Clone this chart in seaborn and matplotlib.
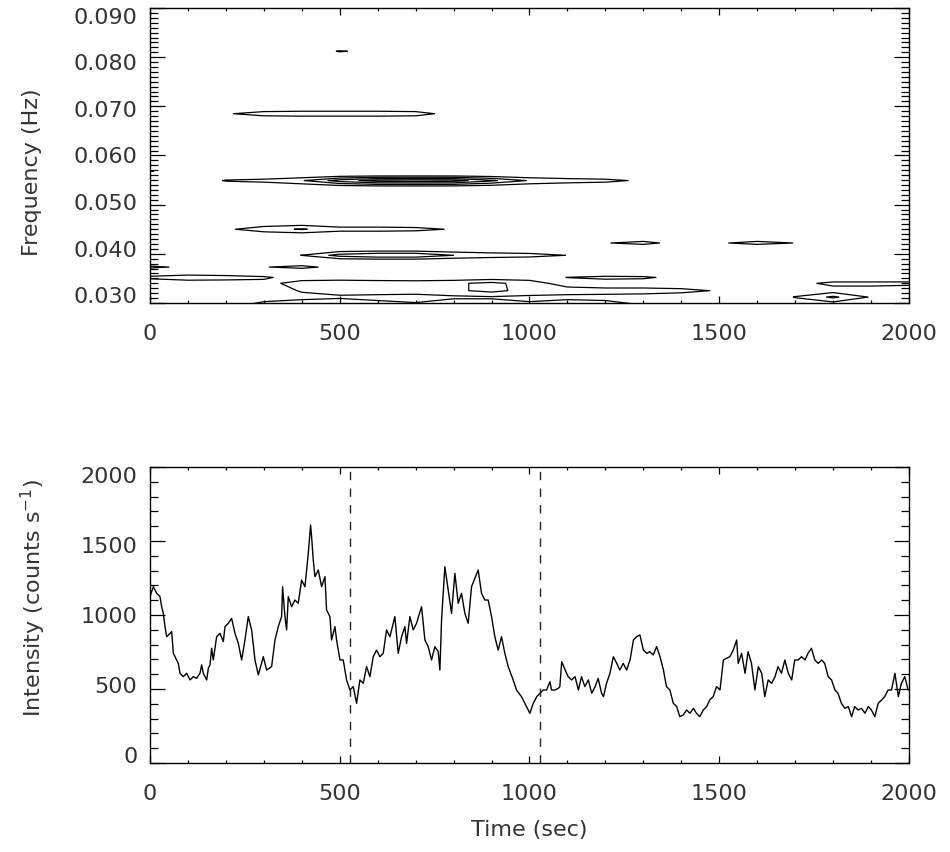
import numpy as np
import pandas as pd
import matplotlib
matplotlib.use("Agg")
import matplotlib.pyplot as plt
from matplotlib.ticker import MultipleLocator, FormatStrFormatter
from matplotlib.transforms import ScaledTranslation
import seaborn as sns

# ---------------- data: wavelet-like power grid (top panel) ----------------
t_grid = [0, 100, 200, 300, 400, 500, 600, 700, 800, 900, 1000,
          1100, 1200, 1300, 1400, 1500, 1600, 1700, 1800, 1900, 2000]

p_0812 = [0, 0, 0, 0, 0, 1.1, 0.6, 0, 0, 0, 0, 0, 0, 0, 0, 0, 0, 0, 0, 0, 0]
p_0685 = [0, 0, 0.9, 1.4, 1.5, 1.5, 1.5, 1.4, 0.6, 0, 0, 0, 0, 0, 0, 0, 0, 0, 0, 0, 0]
p_0568 = [1.1, 0, 0, 0, 0, 0, 0, 0, 0, 0, 0, 0, 0, 0, 0, 0, 0, 0, 0, 0, 0]
p_0549 = [0, 0, 1.1, 1.3, 1.9, 3.5, 4.5, 4.6, 4.5, 3.2, 1.9, 1.5, 1.3, 0.8, 0.3, 0, 0, 0, 0, 0, 0]
p_0450 = [0, 0, 0.8, 1.6, 2.1, 1.4, 1.4, 1.3, 0.9, 0.3, 0, 0, 0, 0, 0, 0, 0, 0, 0, 0, 0]
p_0422 = [0, 0, 0, 0, 0, 0, 0, 0, 0, 0, 0, 0.4, 0.95, 1.3, 0.6, 0.9, 1.3, 0.98, 0.3, 0, 0]
p_0397 = [0, 0, 0, 0.3, 1.02, 2.4, 2.9, 2.9, 2.0, 1.6, 1.4, 0.98, 0.5, 0.2, 0, 0, 0, 0, 0, 0, 0]
p_0373 = [1.2, 0.8, 0.4, 0.95, 1.3, 0.6, 0.2, 0, 0, 0, 0, 0, 0, 0, 0, 0, 0, 0, 0, 0, 0]
p_0352 = [1.3, 1.9, 1.6, 1.2, 0.4, 0.2, 0.2, 0.2, 0.2, 0.3, 0.5, 1.02, 1.3, 1.2, 0.6, 0.2, 0, 0, 0, 0, 0]
p_0340 = [0, 0, 0.2, 0.6, 1.5, 1.9, 1.7, 1.6, 1.8, 2.3, 1.5, 0.5, 0.3, 0.3, 0.2, 0.2, 0.3, 0.6, 1.3, 1.3, 1.3]
p_0325 = [0, 0, 0, 0.3, 1.1, 1.5, 1.5, 1.5, 1.8, 2.3, 1.6, 1.5, 1.4, 1.4, 1.3, 0.9, 0.3, 0.4, 0.5, 0.5, 0.2]
p_0312 = [0, 0, 0.3, 0.6, 0.7, 0.8, 0.7, 0.6, 0.8, 0.9, 0.8, 0.7, 0.7, 0.6, 0.4, 0.2, 0, 1.05, 2.2, 0.9, 0.2]
p_0298 = [0, 0, 0.6, 1.2, 1.5, 1.8, 1.3, 1.1, 1.6, 1.3, 1.1, 1.5, 1.3, 0.9, 0.6, 0.4, 0.3, 0.5, 0.5, 0.4, 0.3]

ridge_freqs = [0.0812, 0.0685, 0.0568, 0.0549, 0.0450, 0.0422, 0.0397,
               0.0373, 0.0352, 0.0340, 0.0325, 0.0312, 0.0298]
ridge_power = [p_0812, p_0685, p_0568, p_0549, p_0450, p_0422, p_0397,
               p_0373, p_0352, p_0340, p_0325, p_0312, p_0298]
gap_freqs = [0.0280, 0.0362, 0.0385, 0.0410, 0.0436, 0.0465, 0.0535,
             0.0561, 0.0577, 0.0670, 0.0700, 0.0800, 0.0824, 0.0920]
contour_levels = [1, 2, 3, 4]

# ---------------- data: light curve (bottom panel) ----------------
lc_time = [0, 8.8, 17.6, 26.3, 30.7, 35.1, 39.5, 43.9, 52.7, 57.1, 61.5, 70.2, 74.6, 79.0,
           87.8, 96.6, 105.4, 114.1, 122.9, 131.7, 136.1, 140.5, 149.3, 153.7, 158.0,
           162.4, 166.8, 175.6, 184.4, 193.2, 197.6, 206.3, 215.1, 223.9, 232.7, 241.5,
           250.2, 259.0, 267.8, 276.6, 285.4, 298.5, 307.3, 320.5, 329.3, 338.0, 346.8,
           349.4, 355.6, 360.0, 364.4, 373.2, 381.9, 390.7, 399.5, 408.3, 417.1, 423.2,
           425.8, 430.2, 434.6, 443.4, 452.2, 461.0, 465.3, 474.1, 478.5, 487.3, 491.7,
           500.5, 509.2, 518.0, 526.8, 535.6, 544.4, 553.1, 561.9, 570.7, 579.5, 588.3,
           597.0, 605.8, 614.6, 623.4, 632.2, 645.3, 654.1, 662.9, 671.7, 676.1, 684.8,
           693.6, 702.4, 715.6, 724.4, 733.1, 741.9, 750.7, 759.5, 763.9, 768.3, 777.0,
           785.8, 794.6, 803.4, 812.2, 820.9, 829.7, 838.5, 847.3, 856.1, 864.8, 873.6,
           882.4, 891.2, 900.0, 908.7, 917.5, 926.3, 935.1, 943.9, 957.0, 965.8, 979.0,
           992.1, 1001, 1010, 1019, 1028, 1036, 1045, 1054, 1058, 1067, 1076, 1080, 1085,
           1094, 1102, 1111, 1120, 1129, 1137, 1146, 1155, 1164, 1173, 1181, 1190, 1195,
           1203, 1212, 1221, 1230, 1238, 1247, 1256, 1265, 1274, 1282, 1291, 1300, 1309,
           1317, 1326, 1335, 1344, 1353, 1361, 1370, 1379, 1388, 1396, 1405, 1414, 1423,
           1432, 1440, 1449, 1458, 1467, 1475, 1484, 1493, 1502, 1511, 1519, 1528, 1537,
           1546, 1550, 1559, 1568, 1576, 1585, 1594, 1603, 1612, 1620, 1629, 1638, 1647,
           1655, 1664, 1673, 1682, 1691, 1699, 1708, 1717, 1726, 1734, 1743, 1752, 1761,
           1770, 1778, 1787, 1796, 1805, 1813, 1822, 1831, 1840, 1849, 1857, 1866, 1875,
           1884, 1893, 1901, 1910, 1919, 1928, 1936, 1945, 1954, 1963, 1972, 1980, 1989,
           1998]
lc_counts = [1124, 1191, 1146, 1124, 1056, 1011, 921, 853, 876, 887, 741, 696, 673, 606,
             583, 606, 561, 583, 572, 606, 662, 606, 561, 640, 662,
             775, 696, 853, 876, 820, 921, 944, 977, 876, 808, 696,
             831, 989, 899, 696, 595, 718, 628, 651, 831, 921, 989,
             1191, 989, 899, 1124, 1056, 1101, 1079, 1236, 1191, 1416, 1608,
             1529, 1371, 1259, 1304, 1191, 1259, 1034, 989, 831, 921, 831,
             696, 696, 561, 493, 516, 403, 561, 538, 651, 583, 718,
             763, 718, 741, 899, 853, 989, 741, 853, 921, 808, 989,
             899, 944, 1056, 831, 786, 696, 786, 752, 628, 966, 1326,
             1169, 1011, 1281, 1079, 1146, 1011, 944, 1191, 1248, 1304, 1146,
             1101, 1101, 989, 853, 763, 853, 741, 651, 561, 493, 448,
             381, 336, 403, 448, 471, 493, 493, 549, 493, 493, 504, 516, 685,
             628, 583, 561, 583, 493, 583, 516, 561, 471, 516, 572, 471, 448,
             538, 606, 718, 673, 628, 673, 628, 696, 831, 853, 865, 763, 741,
             752, 730, 786, 718, 628, 516, 493, 403, 381, 313, 324, 358, 336,
             369, 336, 313, 358, 381, 426, 448, 516, 493, 696, 707, 718, 763,
             831, 673, 741, 606, 752, 673, 493, 651, 606, 448, 561, 538, 583,
             651, 606, 696, 606, 561, 696, 696, 718, 696, 741, 775, 696, 673,
             696, 673, 583, 561, 493, 471, 403, 369, 381, 313, 381, 358, 369,
             336, 381, 358, 313, 403, 426, 448, 493, 493, 606, 448, 538, 583,
             493]
split_times = [528, 1029]

# ---------------- build the grid ----------------
all_freqs = sorted(ridge_freqs + gap_freqs)
row_of = dict(zip(ridge_freqs, ridge_power))
Z = np.array([row_of.get(f, [0.0] * len(t_grid)) for f in all_freqs], dtype=float)

# ---------------- style ----------------
sns.set_theme(style="ticks")
plt.rcParams["font.family"] = ["DejaVu Sans"]
plt.rcParams["mathtext.default"] = "regular"
plt.rcParams["axes.linewidth"] = 1.0
plt.rcParams["axes.edgecolor"] = "black"
FS = 16
TXT = "#333333"

fig = plt.figure(figsize=(9.5, 8.52), dpi=100)
ax1 = fig.add_axes([0.1579, 0.6444, 0.7989, 0.3462])
ax2 = fig.add_axes([0.1579, 0.1045, 0.7989, 0.3474])

def style_axis(ax):
    ax.tick_params(axis="both", which="both", direction="in", top=True, right=True,
                   color="black", labelcolor=TXT, labelsize=FS, width=0.9)
    ax.tick_params(axis="x", which="major", length=5, pad=15)
    ax.tick_params(axis="x", which="minor", length=2.5)
    ax.tick_params(axis="y", which="major", length=11, pad=9)
    ax.tick_params(axis="y", which="minor", length=5.5)
    for s in ax.spines.values():
        s.set_color("black")
        s.set_linewidth(1.0)
    ax.set_facecolor("white")

def squeeze_ylabels(ax, lo, hi, amount_pt=6.0):
    # tick labels sit slightly toward the middle of the axis, as in the original
    for tick in ax.yaxis.get_major_ticks():
        v = tick.get_loc()
        if v < lo - 1e-9 or v > hi + 1e-9:
            continue
        frac = (v - lo) / (hi - lo)
        dy = -(frac - 0.5) * 2 * amount_pt / 72.0
        lab = tick.label1
        lab.set_transform(lab.get_transform() + ScaledTranslation(0, dy, fig.dpi_scale_trans))

# top panel: contours
ax1.contour(t_grid, all_freqs, Z, levels=contour_levels, colors="black", linewidths=0.9)
ax1.set_xlim(0, 2000)
ax1.set_ylim(0.030, 0.090)
ax1.xaxis.set_major_locator(MultipleLocator(500))
ax1.xaxis.set_minor_locator(MultipleLocator(100))
ax1.yaxis.set_major_locator(MultipleLocator(0.010))
ax1.yaxis.set_minor_locator(MultipleLocator(0.001))
ax1.yaxis.set_major_formatter(FormatStrFormatter("%.3f"))
ax1.set_ylabel("Frequency (Hz)", fontsize=FS, color=TXT)
ax1.yaxis.set_label_coords(-0.142, 0.444)
style_axis(ax1)

# bottom panel: light curve
lc = pd.DataFrame({"time": lc_time, "counts": lc_counts})
sns.lineplot(data=lc, x="time", y="counts", ax=ax2, color="black", linewidth=1.0,
             estimator=None, sort=False)
for ts in split_times:
    ax2.axvline(ts, color="#222222", linestyle=(0, (6, 6)), linewidth=1.0)
ax2.set_xlim(0, 2000)
ax2.set_ylim(0, 2000)
ax2.xaxis.set_major_locator(MultipleLocator(500))
ax2.xaxis.set_minor_locator(MultipleLocator(100))
ax2.yaxis.set_major_locator(MultipleLocator(500))
ax2.yaxis.set_minor_locator(MultipleLocator(100))
ax2.set_xlabel("Time (sec)", fontsize=FS, color=TXT, labelpad=12)
ax2.set_ylabel("Intensity (counts s$^{-1}$)", fontsize=FS, color=TXT)
ax2.yaxis.set_label_coords(-0.134, 0.557)
style_axis(ax2)

fig.canvas.draw()
squeeze_ylabels(ax1, 0.030, 0.090, 5.5)
squeeze_ylabels(ax2, 0, 2000, 5.5)

fig.savefig("out.png", dpi=100, facecolor="white")
